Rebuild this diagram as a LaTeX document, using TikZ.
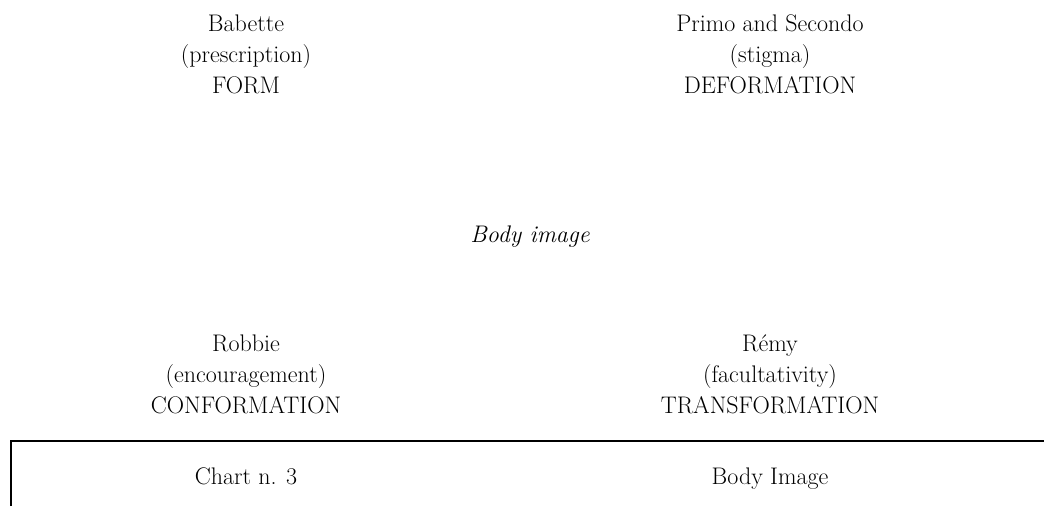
\documentclass[tikz,border=0pt]{standalone}
\begin{document}
\begin{tikzpicture}[x=1pt,y=-1pt,
  lbl/.style={anchor=base,font=\fontsize{24}{31}\selectfont,inner sep=0pt},
  rule/.style={line width=2pt}]
\useasboundingbox (0,0) rectangle (1044,506);
\node[lbl] (form1) at (246,31) {Babette};
\node[lbl] (form2) at (246,62) {(prescription)};
\node[lbl] (form3) at (246,93) {FORM};
\node[lbl] (deform1) at (770,31) {Primo and Secondo};
\node[lbl] (deform2) at (770,62) {(stigma)};
\node[lbl] (deform3) at (770,93) {DEFORMATION};
\node[lbl,font=\fontsize{24}{31}\selectfont\itshape] (body) at (530,242) {Body image};
\node[lbl] (conform1) at (246,351) {Robbie};
\node[lbl] (conform2) at (246,382) {(encouragement)};
\node[lbl] (conform3) at (246,413) {CONFORMATION};
\node[lbl] (trans1) at (770,351) {R\'emy};
\node[lbl] (trans2) at (770,382) {(facultativity)};
\node[lbl] (trans3) at (770,413) {TRANSFORMATION};
\node[lbl] (chart) at (246,484) {Chart n. 3};
\node[lbl] (title) at (770,484) {Body Image};
\coordinate (c1) at (11,506);
\coordinate (c2) at (11,441);
\coordinate (c3) at (1044,441);
\draw[rule] (c1) -- (c2) -- (c3);
\end{tikzpicture}
\end{document}
